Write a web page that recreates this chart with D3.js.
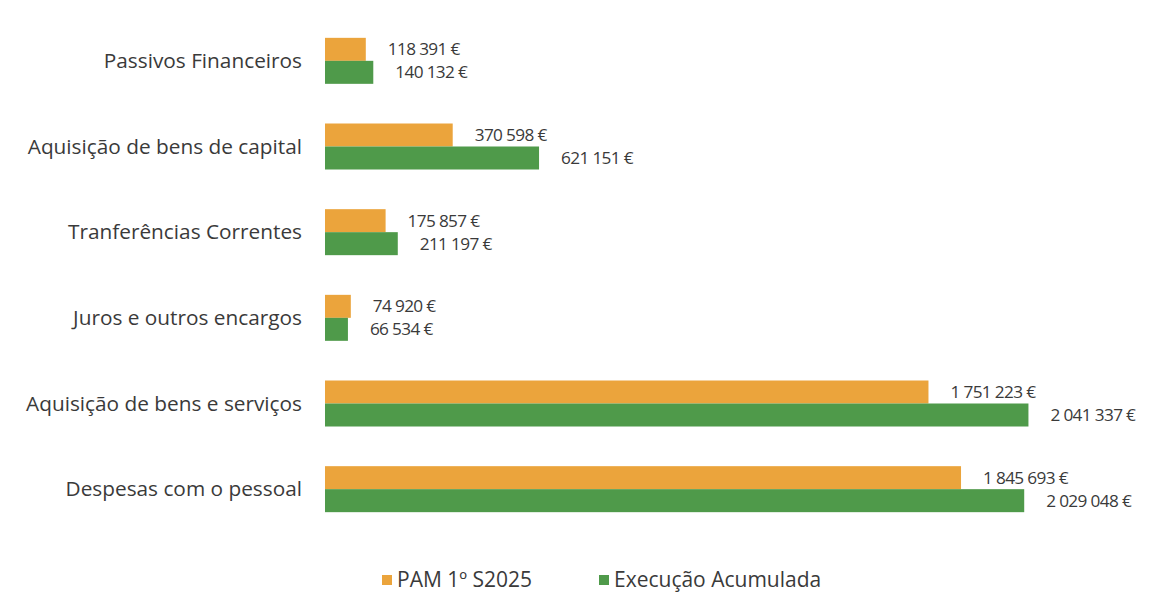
<!DOCTYPE html>
<html><head><meta charset="utf-8">
<script src="https://cdn.jsdelivr.net/npm/d3@7"></script>
<style>body{margin:0;background:#fff;} text{font-family:"Open Sans",Lato,sans-serif;}</style>
</head><body>
<svg id="c" width="1164" height="595"></svg>
<script>
const categories = ["Passivos Financeiros","Aquisição de bens de capital","Tranferências Correntes","Juros e outros encargos","Aquisição de bens e serviços","Despesas com o pessoal"];
const seriesNames = ["PAM 1º S2025","Execução Acumulada"];
const pamValues = [118391, 370598, 175857, 74920, 1751223, 1845693];
const execValues = [140132, 621151, 211197, 66534, 2041337, 2029048];
const colors = ["#EBA43C","#4F9A4A"];

const svg = d3.select("#c");
const x = d3.scaleLinear().domain([0,2500000]).range([325, 1186.5]);
const y = d3.scaleBand().domain(categories).range([18, 532]).padding(0);
const sub = d3.scaleBand().domain(seriesNames).range([0, 46]);
const fmt = v => d3.format(",")(v).replace(/,/g, " ") + " €";

const rows = categories.map((c,i)=>({cat:c, vals:[pamValues[i], execValues[i]]}));
const g = svg.append("g");
rows.forEach(r=>{
  const top = y(r.cat) + (y.bandwidth()-46)/2;
  seriesNames.forEach((s,j)=>{
    const v = r.vals[j];
    g.append("rect").attr("x", x(0)).attr("y", top + sub(s)).attr("width", x(v)-x(0)).attr("height", sub.bandwidth()).attr("fill", colors[j]);
    g.append("text").attr("x", x(v)+22).attr("y", top + sub(s) + sub.bandwidth()/2).attr("dy","0.35em")
      .attr("font-size",17.2).attr("letter-spacing","-0.65").attr("fill","#3a3a3a").text(fmt(v));
  });
  g.append("text").attr("x", 302).attr("y", y(r.cat)+y.bandwidth()/2).attr("dy","0.35em")
    .attr("text-anchor","end").attr("font-size",20.8).attr("fill","#3a3a3a").text(r.cat);
});

const leg = svg.append("g");
const legX = [382, 599];
seriesNames.forEach((s,j)=>{
  leg.append("rect").attr("x", legX[j]).attr("y", 575).attr("width",10).attr("height",10).attr("fill",colors[j]);
  leg.append("text").attr("x", legX[j]+15).attr("y", 580).attr("dy","0.35em").attr("font-size",21).attr("fill","#3a3a3a").text(s);
});
</script>
</body></html>
